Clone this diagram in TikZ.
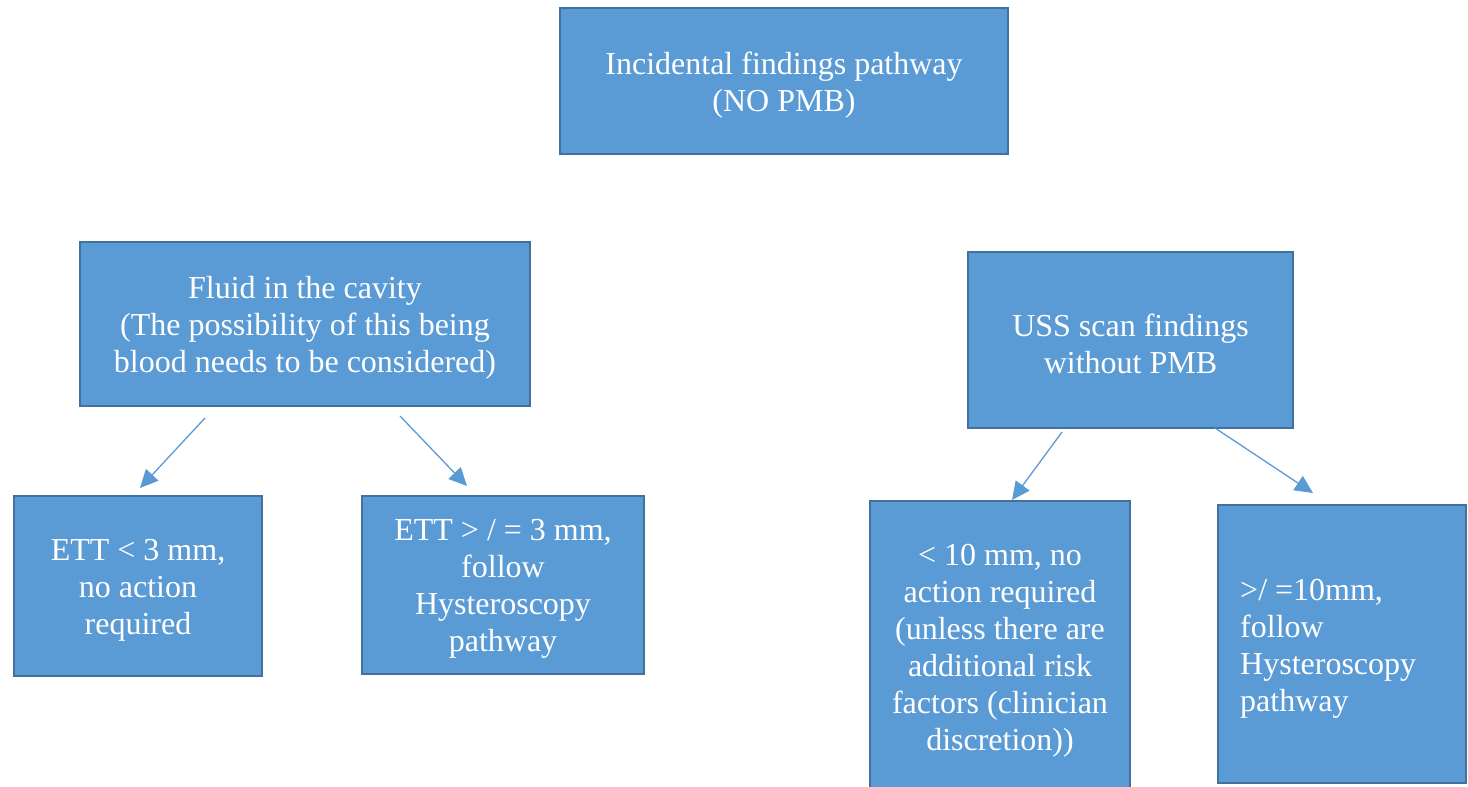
\documentclass[tikz,border=0pt]{standalone}
\usepackage{fontspec}
\setmainfont{Liberation Serif}
\usetikzlibrary{arrows.meta,calc}
\definecolor{boxfill}{HTML}{5B9BD5}
\definecolor{boxline}{HTML}{41719C}
\definecolor{arrowcol}{HTML}{5B9BD5}
\tikzset{
  stepbox/.style={draw=boxline, line width=2pt, fill=boxfill, text=white, inner sep=0pt,
    font=\fontsize{32}{37}\selectfont, align=center},
  conn/.style={draw=arrowcol, line width=1.3pt, -{Triangle[length=18pt,width=17pt]}}
}
\begin{document}
\begin{tikzpicture}[x=1pt,y=-1pt]
\useasboundingbox (0,0) rectangle (1468,787);
% boxes
\node[stepbox, minimum width=448pt, minimum height=146pt] (top) at (784,81) {};
\node[text=white, font=\fontsize{32}{37}\selectfont, align=center, inner sep=0pt] (toptxt) at (784,85) {Incidental findings pathway\\(NO PMB)};
\node[stepbox, minimum width=450pt, minimum height=164pt] (fluid) at (305,324) {};
\node[text=white, font=\fontsize{32}{37}\selectfont, align=center, inner sep=0pt] (fluidtxt) at (305,328) {Fluid in the cavity\\(The possibility of this being\\blood needs to be considered)};
\node[stepbox, minimum width=325pt, minimum height=176pt] (uss) at (1130.5,340) {};
\node[text=white, font=\fontsize{32}{37}\selectfont, align=center, inner sep=0pt] (usstxt) at (1130.5,344) {USS scan findings\\without PMB};
\node[stepbox, minimum width=248pt, minimum height=180pt] (ettlow) at (138,586) {};
\node[text=white, font=\fontsize{32}{37}\selectfont, align=center, inner sep=0pt] (ettlowtxt) at (138,590) {ETT < 3 mm,\\no action\\required};
\node[stepbox, minimum width=282pt, minimum height=178pt] (etthigh) at (503,585) {};
\node[text=white, font=\fontsize{32}{37}\selectfont, align=center, inner sep=0pt] (etthightxt) at (503,589) {ETT > / = 3 mm,\\follow\\Hysteroscopy\\pathway};
\node[stepbox, minimum width=260pt, minimum height=292pt] (low10) at (1000,647) {};
\node[text=white, font=\fontsize{32}{37}\selectfont, align=center, inner sep=0pt] (low10txt) at (1000,651) {< 10 mm, no\\action required\\(unless there are\\additional risk\\factors (clinician\\discretion))};
\node[stepbox, minimum width=248pt, minimum height=278pt] (high10) at (1342,644) {};
\node[text=white, font=\fontsize{32}{37}\selectfont, align=left, anchor=west, inner sep=0pt] (high10txt) at (1240,649) {>/ =10mm,\\follow\\Hysteroscopy\\pathway};
% connector ends
\coordinate (a1s) at (205,418); \coordinate (a1e) at (140,488);
\coordinate (a2s) at (400,416); \coordinate (a2e) at (467,486);
\coordinate (a3s) at (1062,432); \coordinate (a3e) at (1012,500);
\coordinate (a4s) at (1215,428); \coordinate (a4e) at (1313,493);
\draw[conn] (a1s) -- (a1e);
\draw[conn] (a2s) -- (a2e);
\draw[conn] (a3s) -- (a3e);
\draw[conn] (a4s) -- (a4e);
\end{tikzpicture}
\end{document}
